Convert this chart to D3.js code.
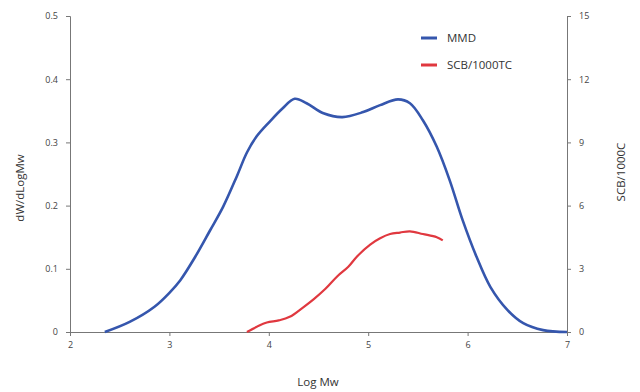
<!DOCTYPE html>
<html><head><meta charset="utf-8">
<script src="https://cdn.jsdelivr.net/npm/d3@7"></script>
<style>body{margin:0;background:#fff}svg{display:block}</style>
</head><body>
<svg id="c" width="640" height="392"></svg>
<script>
const mmdX = [2.35,2.60,2.85,3.0,3.11,3.26,3.41,3.54,3.68,3.78,3.88,4.01,4.14,4.26,4.38,4.55,4.74,4.95,5.12,5.30,5.42,5.55,5.69,5.82,5.95,6.09,6.23,6.40,6.56,6.76,7.0];
const mmdY = [0,0.016,0.040,0.062,0.082,0.119,0.161,0.198,0.247,0.284,0.310,0.333,0.354,0.369,0.362,0.346,0.340,0.348,0.359,0.368,0.362,0.335,0.293,0.240,0.177,0.119,0.071,0.035,0.014,0.003,0.0];
const scbX = [3.78,3.88,3.98,4.10,4.21,4.34,4.45,4.57,4.69,4.80,4.89,5.02,5.12,5.22,5.32,5.42,5.55,5.69,5.75];
const scbY = [0,0.25,0.45,0.55,0.72,1.15,1.55,2.05,2.65,3.1,3.6,4.15,4.45,4.65,4.72,4.78,4.65,4.5,4.35];
const xTicks = [2,3,4,5,6,7];
const yLeftTicks = [0,0.1,0.2,0.3,0.4,0.5];
const yRightTicks = [0,3,6,9,12,15];
const seriesNames = ["MMD","SCB/1000TC"];
const colors = ["#3556ad","#e0383f"];

const svg = d3.select("#c");
const L=70,R=567,T=16,B=332;
const x = d3.scaleLinear().domain([2,7]).range([L,R]);
const yL = d3.scaleLinear().domain([0,0.5]).range([B,T]);
const yR = d3.scaleLinear().domain([0,15]).range([B,T]);
const font = "'Open Sans', sans-serif";
const axisColor = "#777";
function style(g){
  g.selectAll("path,line").attr("stroke",axisColor).attr("stroke-width",1);
  g.selectAll("text").attr("fill","#444").attr("font-family",font).attr("font-size",9);
}
svg.append("g").attr("transform",`translate(0,${B})`)
  .call(d3.axisBottom(x).tickValues(xTicks).tickFormat(d3.format("d")).tickSizeOuter(0).tickSize(4).tickPadding(6)).call(style);
svg.append("g").attr("transform",`translate(${L},0)`)
  .call(d3.axisLeft(yL).tickValues(yLeftTicks).tickFormat(d=>d===0?"0":d3.format(".1f")(d)).tickSizeOuter(0).tickSize(4).tickPadding(8)).call(style);
svg.append("g").attr("transform",`translate(${R},0)`)
  .call(d3.axisRight(yR).tickValues(yRightTicks).tickFormat(d3.format("d")).tickSizeOuter(0).tickSize(4).tickPadding(8)).call(style);

const mmd = mmdX.map((v,i)=>[v,mmdY[i]]);
const scb = scbX.map((v,i)=>[v,scbY[i]]);
svg.append("path").datum(mmd).attr("fill","none").attr("stroke",colors[0]).attr("stroke-width",2.6)
  .attr("d",d3.line().x(d=>x(d[0])).y(d=>yL(d[1])).curve(d3.curveCatmullRom.alpha(0.5)));
svg.append("path").datum(scb).attr("fill","none").attr("stroke",colors[1]).attr("stroke-width",2.2)
  .attr("d",d3.line().x(d=>x(d[0])).y(d=>yR(d[1])).curve(d3.curveCatmullRom.alpha(0.5)));

// titles
const tf = 11.5;
svg.append("text").attr("x",318).attr("y",386).attr("text-anchor","middle").attr("font-family",font).attr("font-size",tf).attr("fill","#333").text("Log Mw");
svg.append("text").attr("transform","translate(24,188) rotate(-90)").attr("text-anchor","middle").attr("font-family",font).attr("font-size",tf).attr("fill","#333").text("dW/dLogMw");
svg.append("text").attr("transform","translate(625,172) rotate(-90)").attr("text-anchor","middle").attr("font-family",font).attr("font-size",tf).attr("fill","#333").text("SCB/1000C");

// legend
const lg = svg.append("g");
seriesNames.forEach((n,i)=>{
  const yy = 38 + i*27;
  lg.append("line").attr("x1",421).attr("x2",437).attr("y1",yy).attr("y2",yy).attr("stroke",colors[i]).attr("stroke-width",3);
  lg.append("text").attr("x",447).attr("y",yy+4).attr("font-family",font).attr("font-size",tf).attr("fill","#333").text(n);
});
</script>
</body></html>
